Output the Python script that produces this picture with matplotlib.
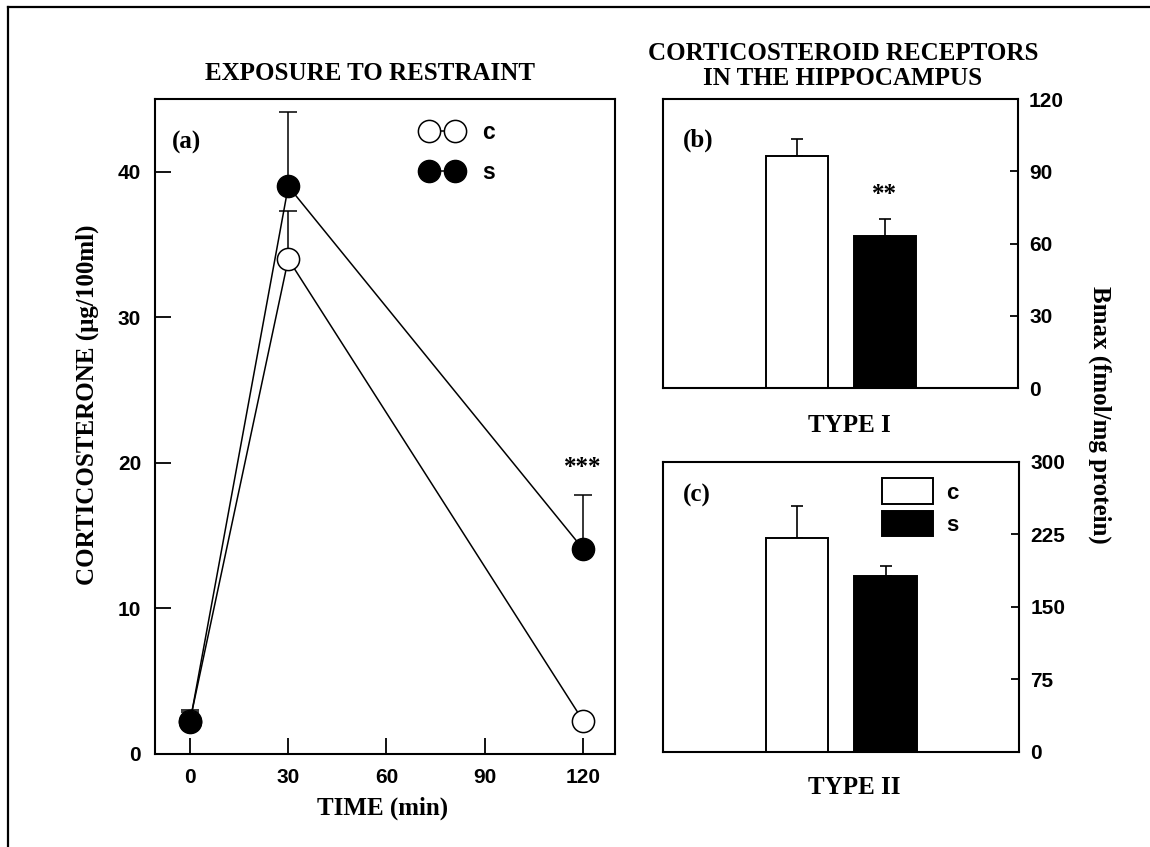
import matplotlib
matplotlib.use("Agg")
import matplotlib.pyplot as plt
from matplotlib.lines import Line2D
from matplotlib.patches import Patch

# panel (a): corticosterone after restraint
times = [0, 30, 120]
c_mean = [2.3, 34.0, 2.3]
c_err = [0.6, 3.3, 0.4]
s_mean = [2.2, 39.0, 14.1]
s_err = [0.8, 5.1, 3.7]
time_ticks = [0, 30, 60, 90, 120]
cort_ticks = [0, 10, 20, 30, 40]

# panels (b) and (c): receptor Bmax
groups = ['c', 's']
type1_mean = [96.5, 63.3]
type1_err = [6.8, 6.9]
type2_mean = [221.4, 182.4]
type2_err = [33.1, 10.0]
type1_ticks = [0, 30, 60, 90, 120]
type2_ticks = [0, 75, 150, 225, 300]

SERIF = 'Liberation Serif'
SANS = 'Liberation Sans'
plt.rcParams['font.family'] = SANS
plt.rcParams['font.weight'] = 'bold'

fig = plt.figure(figsize=(11.5, 8.47), dpi=100)

# outer frame (top and left only)
fig.add_artist(Line2D([0.007, 1.0], [0.9917, 0.9917], color='black', lw=1.6, transform=fig.transFigure))
fig.add_artist(Line2D([0.007, 0.007], [0.0, 0.9917], color='black', lw=1.6, transform=fig.transFigure))

# ---- panel (a)
ax = fig.add_axes([0.1348, 0.1098, 0.4, 0.7733])
ax.errorbar(times, c_mean, yerr=[[0] * 3, c_err], fmt='none', ecolor='black', elinewidth=1.1, capsize=6.5, capthick=1.1, zorder=2)
ax.errorbar(times, s_mean, yerr=[[0] * 3, s_err], fmt='none', ecolor='black', elinewidth=1.1, capsize=6.5, capthick=1.1, zorder=2)
ax.plot(times, c_mean, color='black', lw=1.1, marker='o', ms=16, mfc='white', mec='black', mew=1.1, zorder=3)
ax.plot(times, s_mean, color='black', lw=1.1, marker='o', ms=16, mfc='black', mec='black', zorder=4)
ax.set_xlim(-10.7, 129.8)
ax.set_ylim(0, 45)
ax.set_xticks(time_ticks)
ax.set_yticks(cort_ticks)
ax.tick_params(direction='in', length=11.5, width=1.3, labelsize=15, pad=10)
for sp in ax.spines.values():
    sp.set_linewidth(1.5)
ax.text(120, 19.7, '***', ha='center', va='center', fontsize=18, family=SERIF, fontweight='bold')
ax.text(0.037, 0.933, '(a)', transform=ax.transAxes, ha='left', va='center', fontsize=18, family=SERIF, fontweight='bold')
hc = Line2D([], [], color='black', lw=1.1, marker='o', ms=16, mfc='white', mec='black', mew=1.1)
hs = Line2D([], [], color='black', lw=1.1, marker='o', ms=16, mfc='black', mec='black')
ax.legend([hc, hs], groups, loc='upper left', bbox_to_anchor=(0.58, 0.966), frameon=False,
          numpoints=2, handlelength=1.75, handletextpad=0.9, labelspacing=0.75, borderpad=0,
          borderaxespad=0, prop={'family': SANS, 'weight': 'bold', 'size': 16.5})

# ---- panels (b) and (c)
def bar_panel(rect, means, errs, ticks, top, label, label_y):
    bx = fig.add_axes(rect)
    pos = list(range(len(means)))
    bx.bar(pos, means, width=0.705, color=['white', 'black'], edgecolor='black', linewidth=1.4, zorder=2)
    bx.errorbar(pos, means, yerr=[[0] * len(errs), errs], fmt='none', ecolor='black',
                elinewidth=1.2, capsize=4.5, capthick=1.2, zorder=1)
    bx.set_xlim(-1.52, 2.51)
    bx.set_ylim(0, top)
    bx.set_xticks([])
    bx.set_yticks(ticks)
    bx.yaxis.tick_right()
    bx.tick_params(axis='y', direction='in', length=6, width=1.3, labelsize=15, pad=8)
    for sp in bx.spines.values():
        sp.set_linewidth(1.5)
    bx.text(0.056, label_y, label, transform=bx.transAxes, ha='left', va='center', fontsize=18, family=SERIF, fontweight='bold')
    return bx

bx = bar_panel([0.5765, 0.5419, 0.3087, 0.3412], type1_mean, type1_err, type1_ticks, 120, '(b)', 0.858)
bx.text(1, 80.2, '**', ha='center', va='center', fontsize=18, family=SERIF, fontweight='bold')

cx = bar_panel([0.5765, 0.1122, 0.3096, 0.3424], type2_mean, type2_err, type2_ticks, 300, '(c)', 0.886)
pc = Patch(facecolor='white', edgecolor='black', linewidth=1.4)
ps = Patch(facecolor='black', edgecolor='black', linewidth=1.4)
cx.legend([pc, ps], groups, loc='upper left', bbox_to_anchor=(0.615, 0.943), frameon=False,
          handlelength=2.3, handleheight=1.4, handletextpad=0.6, labelspacing=0.3, borderpad=0,
          borderaxespad=0, prop={'family': SANS, 'weight': 'bold', 'size': 16})

# ---- figure texts
def serif_text(x, y, s, **kw):
    fig.text(x, y, s, ha='center', va='center', fontsize=18, family=SERIF, fontweight='bold', **kw)

serif_text(0.3217, 0.9138, 'EXPOSURE TO RESTRAINT')
serif_text(0.733, 0.922, 'CORTICOSTEROID RECEPTORS\nIN THE HIPPOCAMPUS', linespacing=1.1)
serif_text(0.0757, 0.5218, 'CORTICOSTERONE (\u03bcg/100ml)', rotation=90)
serif_text(0.333, 0.046, 'TIME (min)')
serif_text(0.739, 0.498, 'TYPE I')
serif_text(0.743, 0.0708, 'TYPE II')
serif_text(0.9565, 0.51, 'Bmax (fmol/mg protein)', rotation=270)

fig.savefig('out.png', dpi=100)
